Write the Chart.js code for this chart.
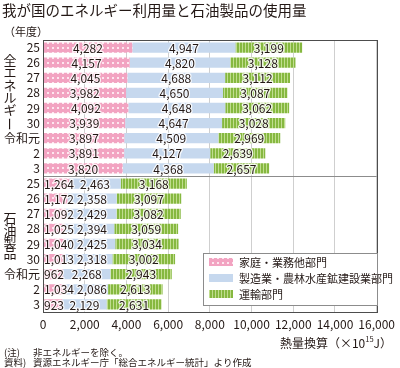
<!DOCTYPE html>
<html>
<head>
<meta charset="utf-8">
<script src="https://cdn.jsdelivr.net/npm/chart.js@4"></script>
<style>
  html, body { margin: 0; padding: 0; background: #fff; }
  #wrap { width: 400px; height: 368px; position: relative; }
</style>
</head>
<body>
<div id="wrap"><canvas id="chart"></canvas></div>
<script>
/* ===================== DATA ===================== */
const yearLabels = ["25", "26", "27", "28", "29", "30", "令和元", "2", "3",
                    "25", "26", "27", "28", "29", "30", "令和元", "2", "3"];

// 全エネルギー (first 9) + 石油製品 (last 9)
const household = [4282, 4157, 4045, 3982, 4092, 3939, 3897, 3891, 3820,
                   1264, 1172, 1092, 1025, 1040, 1013, 962, 1034, 923];
const industry  = [4947, 4820, 4688, 4650, 4648, 4647, 4509, 4127, 4368,
                   2463, 2358, 2429, 2394, 2425, 2318, 2268, 2086, 2129];
const transport = [3199, 3128, 3112, 3087, 3062, 3028, 2969, 2639, 2657,
                   3168, 3097, 3082, 3059, 3034, 3002, 2943, 2613, 2631];

const seriesNames = ["家庭・業務他部門", "製造業・農林水産鉱建設業部門", "運輸部門"];
const groupNames = ["全エネルギー", "石油製品"];

const titleText = "我が国のエネルギー利用量と石油製品の使用量";
const noteLines = [["(注)", "非エネルギーを除く。"],
                   ["資料)", "資源エネルギー庁「総合エネルギー統計」より作成"]];

/* ===================== STYLE ===================== */
const FONT = '"Noto Sans CJK JP", "Noto Sans", sans-serif';
const TXT = "#231815";

const canvas = document.getElementById("chart");
const ctx0 = canvas.getContext("2d");

function makePattern(w, h, draw) {
  const c = document.createElement("canvas");
  c.width = w; c.height = h;
  draw(c.getContext("2d"));
  return ctx0.createPattern(c, "repeat");
}

const pinkPattern = makePattern(5, 5, g => {
  g.fillStyle = "#f2a3c1";
  g.fillRect(0, 0, 5, 5);
  g.fillStyle = "#fde6ef";
  g.fillRect(2, 2, 2, 2);
});
const bluePattern = "#c6d8ee";
const greenPattern = makePattern(3, 1, g => {
  g.fillStyle = "#86b840";
  g.fillRect(0, 0, 2, 1);
  g.fillStyle = "#c0dd8e";
  g.fillRect(2, 0, 1, 1);
});
const fills = [pinkPattern, bluePattern, greenPattern];

/* ===================== PLUGINS ===================== */
const valueLabels = {
  id: "valueLabels",
  afterDatasetsDraw(chart) {
    const c = chart.ctx;
    const left = chart.chartArea.left;
    const n = chart.data.labels.length;
    c.save();
    c.font = "12px " + FONT;
    c.textAlign = "center";
    c.textBaseline = "middle";
    c.lineJoin = "round";
    for (let i = 0; i < n; i++) {
      let prevRight = left + 1;
      chart.data.datasets.forEach((ds, di) => {
        const el = chart.getDatasetMeta(di).data[i];
        const txt = ds.data[i].toLocaleString("en-US");
        const w = c.measureText(txt).width;
        // push labels right when a short segment would make them collide
        const gap = di === 0 ? 0 : 3;
        const x = Math.max((el.x + el.base) / 2, prevRight + gap + w / 2);
        prevRight = x + w / 2;
        c.strokeStyle = "rgba(255,255,255,0.85)";
        c.lineWidth = 2.5;
        c.strokeText(txt, x, el.y + 0.5);
        c.fillStyle = TXT;
        c.fillText(txt, x, el.y + 0.5);
      });
    }
    c.restore();
  }
};

const decorations = {
  id: "decorations",
  afterDraw(chart) {
    const c = chart.ctx;
    const a = chart.chartArea;
    const yScale = chart.scales.y;
    c.save();

    // divider between the two groups
    const yMid = (yScale.getPixelForValue(8) + yScale.getPixelForValue(9)) / 2;
    c.strokeStyle = "#8c8c8c";
    c.lineWidth = 1;
    c.beginPath();
    c.moveTo(a.left, Math.round(yMid) + 0.5);
    c.lineTo(a.right, Math.round(yMid) + 0.5);
    c.stroke();

    // frame
    c.strokeStyle = "#4d4d4d";
    c.strokeRect(Math.round(a.left) + 0.5, Math.round(a.top) + 0.5,
                 Math.round(a.right - a.left), Math.round(a.bottom - a.top));

    // title
    c.fillStyle = TXT;
    c.textBaseline = "middle";
    c.textAlign = "left";
    c.font = "14.5px " + FONT;
    c.fillText(titleText, 2, 10);

    // (年度)
    c.font = "11px " + FONT;
    c.fillText("（年度）", 4, 32);

    // vertical group labels
    c.textAlign = "center";
    c.font = "13px " + FONT;
    const starts = [60, 218];
    const steps = [12.4, 11.8];
    groupNames.forEach((name, gi) => {
      [...name].forEach((ch, k) => {
        const y = starts[gi] + k * steps[gi];
        if (ch === "ー") {
          c.save();
          c.translate(10, y + 2);
          c.rotate(Math.PI / 2);
          c.fillText(ch, 0, 0);
          c.restore();
        } else {
          c.fillText(ch, 10, y);
        }
      });
    });

    // x-axis title 熱量換算（×10^15 J）
    c.textAlign = "left";
    const p1 = "熱量換算（×10", p3 = "J）";
    c.font = "12px " + FONT;
    const w1 = c.measureText(p1).width, w3 = c.measureText(p3).width;
    c.font = "7.5px " + FONT;
    const w2 = c.measureText("15").width;
    const x = 392 - (w1 + w2 + w3);
    c.font = "12px " + FONT;
    c.fillText(p1, x, 343);
    c.font = "7.5px " + FONT;
    c.fillText("15", x + w1, 339);
    c.font = "12px " + FONT;
    c.fillText(p3, x + w1 + w2, 343);

    // notes
    c.font = "9.5px " + FONT;
    c.textBaseline = "alphabetic";
    noteLines.forEach((ln, i) => {
      c.fillText(ln[0], 4, 356 + i * 10);
      c.fillText(ln[1], 33, 356 + i * 10);
    });

    // legend box
    c.textBaseline = "middle";
    const lx = 203, ly = 253, lw = 174, lh = 52;
    c.fillStyle = "#fff";
    c.fillRect(lx, ly, lw, lh);
    c.strokeStyle = "#8c8c8c";
    c.strokeRect(lx + 0.5, ly + 0.5, lw, lh);
    c.font = "11px " + FONT;
    seriesNames.forEach((name, i) => {
      const cy = 262 + i * 16;
      c.fillStyle = fills[i];
      c.fillRect(209, cy - 4, 24, 8);
      c.fillStyle = TXT;
      c.fillText(name, 239, cy + 0.5);
    });

    c.restore();
  }
};

/* ===================== CHART ===================== */
new Chart(canvas, {
  type: "bar",
  data: {
    labels: yearLabels,
    datasets: [
      { label: seriesNames[0], data: household, backgroundColor: pinkPattern },
      { label: seriesNames[1], data: industry, backgroundColor: bluePattern },
      { label: seriesNames[2], data: transport, backgroundColor: greenPattern }
    ].map(d => Object.assign(d, { barPercentage: 0.68, categoryPercentage: 1, borderWidth: 0 }))
  },
  options: {
    indexAxis: "y",
    responsive: true,
    maintainAspectRatio: false,
    animation: false,
    layout: { padding: { top: 40, right: 18, left: 0, bottom: 0 } },
    plugins: {
      legend: { display: false },
      tooltip: { enabled: false }
    },
    scales: {
      x: {
        stacked: true,
        min: 0,
        max: 16000,
        grid: { color: "#cfcfcf", drawTicks: false },
        border: { display: false },
        ticks: {
          stepSize: 2000,
          padding: 5,
          color: TXT,
          font: { size: 12, family: FONT },
          maxRotation: 0,
          callback: v => v.toLocaleString("en-US")
        },
        afterFit: s => { s.height = 56; }
      },
      y: {
        stacked: true,
        grid: { display: false, drawTicks: false },
        border: { display: false },
        ticks: {
          padding: 3,
          color: TXT,
          autoSkip: false,
          font: { size: 12, family: FONT }
        },
        afterFit: s => { s.width = 43; }
      }
    }
  },
  plugins: [valueLabels, decorations]
});
</script>
</body>
</html>
